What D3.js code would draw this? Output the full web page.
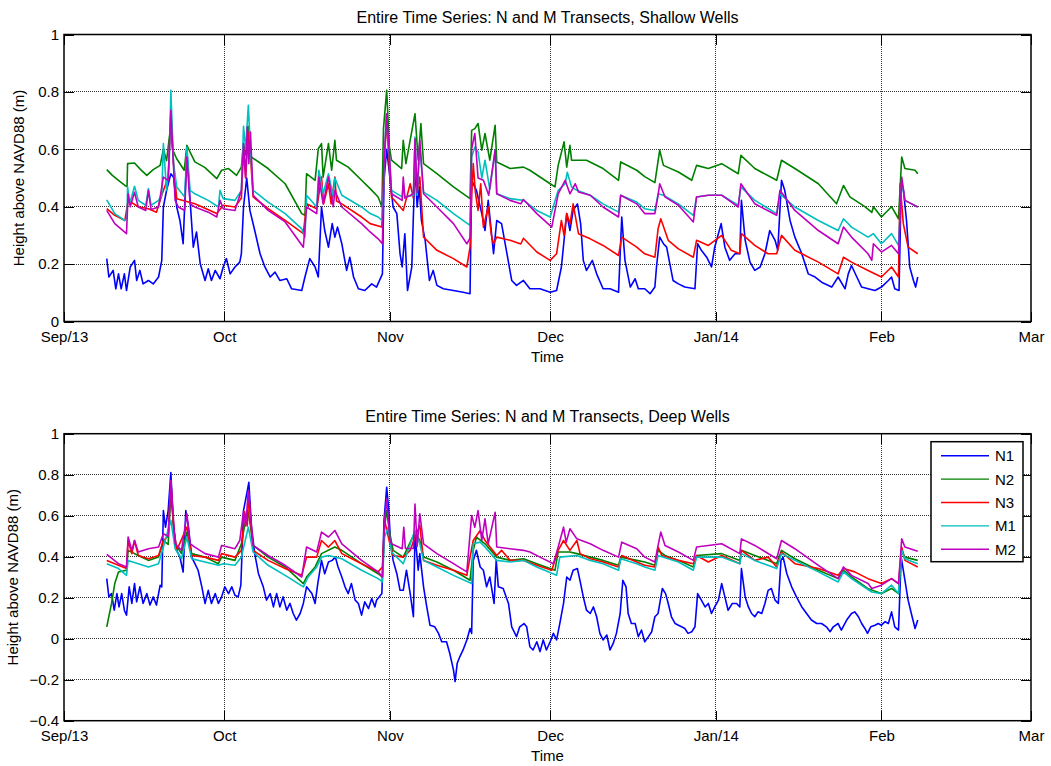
<!DOCTYPE html>
<html>
<head>
<meta charset="utf-8">
<script src="https://cdn.jsdelivr.net/npm/d3@7"></script>
<style>
  body { margin: 0; background: #fff; }
  svg { display: block; font-family: "Liberation Sans", Arial, sans-serif; }
</style>
</head>
<body>
<div id="chart"></div>
<script>

// data: day offset from Sep 1 2013 (UTC), height above NAVD88 (m)
const seriesNames = ["N1", "N2", "N3", "M1", "M2"];
const monthTicks = ["2013-09-01", "2013-10-01", "2013-11-01", "2013-12-01", "2014-01-01", "2014-02-01", "2014-03-01"];
const monthLabels = ["Sep/13", "Oct", "Nov", "Dec", "Jan/14", "Feb", "Mar"];
const yTicksShallow = [0, 0.2, 0.4, 0.6, 0.8, 1];
const yTicksDeep = [-0.4, -0.2, 0, 0.2, 0.4, 0.6, 0.8, 1];

const shallowN1 = [[8.0,.219],[8.4,.155],[9.2,.178],[9.7,.114],[10.2,.166],[10.7,.114],[11.3,.166],[11.7,.108],[12.4,.19],[13.2,.213],[13.6,.143],[14.2,.178],[14.8,.131],[15.8,.143],[16.7,.131],[17.7,.155],[18.3,.213],[18.6,.399],[19.2,.457],[20.0,.515],[20.5,.503],[21.1,.399],[21.7,.352],[22.3,.271],[23.0,.597],[23.6,.422],[24.2,.259],[24.8,.312],[25.5,.201],[26.4,.143],[27.0,.184],[27.6,.143],[28.3,.178],[29.2,.149],[29.8,.19],[30.4,.219],[31.1,.166],[32.0,.19],[32.9,.207],[33.2,.236],[33.6,.399],[34.2,.50],[34.8,.387],[35.7,.317],[36.7,.236],[37.6,.19],[38.6,.155],[39.5,.172],[40.4,.143],[41.7,.149],[42.6,.114],[44.5,.108],[45.1,.155],[46.0,.219],[47.0,.19],[47.6,.155],[48.2,.399],[48.8,.317],[49.5,.259],[50.2,.341],[50.7,.294],[51.2,.329],[52.0,.271],[52.9,.178],[53.5,.224],[54.2,.155],[55.1,.114],[56.3,.108],[57.6,.131],[58.5,.12],[59.6,.166],[59.9,.492],[60.4,.60],[61.0,.503],[61.6,.399],[62.3,.376],[62.9,.236],[63.3,.19],[63.8,.306],[64.3,.108],[65.1,.19],[65.7,.55],[66.1,.399],[66.5,.469],[66.9,.352],[67.6,.283],[68.4,.143],[69.1,.178],[69.8,.126],[71.0,.114],[72.9,.108],[74.7,.102],[76.0,.097],[76.3,.492],[77.2,.457],[78.2,.376],[78.8,.317],[79.4,.422],[80.4,.236],[81.0,.352],[81.9,.341],[82.8,.248],[83.8,.143],[84.7,.126],[86.0,.143],[87.2,.114],[89.1,.114],[91.0,.102],[92.2,.108],[93.1,.19],[94.1,.376],[94.7,.317],[95.3,.387],[96.1,.41],[96.7,.341],[97.2,.213],[97.8,.178],[98.9,.213],[99.7,.166],[100.9,.114],[102.2,.114],[103.8,.102],[104.4,.364],[105.0,.213],[106.0,.12],[106.9,.149],[107.5,.114],[108.7,.114],[109.7,.097],[110.6,.12],[110.9,.19],[111.5,.294],[112.2,.271],[112.8,.259],[113.4,.201],[114.0,.143],[115.0,.131],[116.2,.12],[118.1,.114],[118.6,.271],[119.3,.248],[120.3,.224],[121.2,.19],[121.8,.259],[123.0,.341],[123.7,.259],[124.6,.213],[125.6,.236],[126.5,.236],[126.8,.422],[127.5,.283],[128.4,.207],[129.3,.178],[130.3,.19],[131.2,.236],[132.1,.317],[133.1,.283],[133.6,.248],[134.3,.492],[134.9,.457],[135.9,.352],[136.8,.294],[138.1,.236],[139.3,.166],[140.6,.155],[141.8,.137],[143.7,.12],[144.9,.155],[146.2,.114],[146.8,.166],[147.4,.195],[148.4,.155],[149.3,.12],[150.5,.114],[151.8,.108],[153.0,.12],[154.3,.143],[154.9,.155],[155.5,.114],[156.3,.108],[156.7,.469],[157.1,.46],[157.7,.352],[158.3,.19],[159.0,.143],[159.4,.12],[159.8,.155]];

const shallowN2 = [[8.0,.529],[9.0,.51],[10.2,.492],[11.4,.474],[11.8,.47],[11.9,.55],[13.2,.552],[14.3,.53],[15.5,.509],[16.7,.529],[18.0,.544],[18.6,.60],[19.2,.56],[19.7,.64],[20.0,.68],[20.3,.60],[21.1,.567],[22.5,.527],[23.0,.614],[23.6,.59],[24.5,.556],[26.4,.536],[28.6,.498],[29.5,.527],[30.8,.533],[32.3,.509],[33.2,.538],[33.6,.62],[34.0,.58],[34.5,.68],[34.8,.60],[35.1,.573],[38.2,.533],[41.4,.48],[44.5,.376],[45.1,.37],[45.4,.515],[47.0,.492],[47.6,.602],[48.2,.62],[48.5,.503],[49.5,.62],[50.1,.527],[50.7,.631],[51.0,.562],[53.2,.538],[55.7,.492],[57.3,.463],[58.8,.434],[59.5,.40],[59.8,.672],[60.4,.806],[60.9,.608],[61.3,.562],[63.2,.533],[63.5,.631],[64.0,.55],[65.7,.724],[66.3,.562],[66.8,.69],[67.3,.55],[69.8,.515],[72.9,.469],[76.0,.428],[76.3,.666],[76.9,.672],[77.5,.69],[78.2,.597],[78.8,.655],[79.7,.562],[80.7,.684],[81.0,.556],[83.5,.533],[86.0,.538],[87.2,.527],[91.0,.48],[91.9,.469],[92.5,.544],[93.6,.626],[94.1,.538],[94.7,.614],[95.0,.562],[97.8,.562],[100.9,.533],[103.8,.492],[104.2,.556],[107.2,.527],[108.7,.505],[110.6,.484],[111.5,.597],[112.2,.544],[115.0,.521],[117.5,.492],[118.4,.544],[120.6,.533],[123.1,.55],[126.2,.515],[126.7,.579],[129.3,.533],[133.4,.492],[134.3,.562],[136.8,.533],[141.2,.48],[144.6,.41],[145.9,.474],[147.1,.434],[149.9,.40],[151.2,.38],[151.5,.40],[153.0,.364],[154.9,.40],[156.2,.358],[156.8,.573],[157.4,.533],[159.3,.527],[159.8,.515]];

const shallowN3 = [[8.0,.393],[9.5,.37],[11.4,.352],[12.0,.422],[13.9,.40],[15.8,.393],[17.3,.381],[18.6,.457],[19.5,.50],[20.0,.73],[20.5,.55],[21.1,.428],[24.5,.41],[28.6,.376],[29.8,.405],[32.0,.399],[33.2,.43],[33.6,.60],[34.0,.50],[34.5,.66],[35.0,.55],[35.4,.434],[38.2,.393],[41.4,.352],[44.8,.306],[45.4,.41],[47.3,.393],[48.2,.503],[48.6,.41],[49.5,.48],[50.0,.41],[50.7,.503],[51.0,.42],[52.0,.41],[55.7,.364],[57.3,.341],[59.5,.329],[59.9,.55],[60.4,.70],[61.0,.503],[61.3,.434],[63.5,.387],[64.0,.422],[64.8,.48],[65.4,.43],[65.7,.56],[66.1,.45],[66.6,.503],[67.3,.294],[67.9,.283],[69.8,.248],[72.9,.219],[75.4,.19],[76.0,.259],[76.3,.44],[76.6,.55],[77.0,.45],[77.5,.387],[78.0,.48],[78.5,.329],[79.4,.399],[80.0,.30],[80.4,.271],[81.0,.294],[83.5,.283],[85.5,.27],[86.0,.29],[88.5,.242],[91.0,.213],[92.2,.236],[93.1,.352],[93.6,.30],[94.1,.376],[94.7,.34],[95.3,.41],[96.3,.306],[98.5,.288],[100.9,.265],[103.8,.23],[104.4,.294],[107.2,.259],[108.7,.236],[110.6,.224],[111.2,.323],[111.7,.358],[113.1,.283],[115.0,.253],[117.8,.224],[118.4,.283],[120.6,.265],[123.1,.30],[124.9,.248],[126.5,.236],[126.8,.306],[129.3,.265],[131.8,.236],[133.4,.236],[134.3,.30],[136.8,.248],[141.2,.207],[144.9,.166],[145.9,.224],[147.4,.207],[150.5,.178],[153.0,.155],[154.9,.19],[156.2,.155],[156.5,.48],[157.1,.341],[158.0,.259],[159.8,.236]];

const shallowM1 = [[8.0,.424],[9.5,.376],[11.4,.352],[11.8,.36],[11.9,.469],[12.3,.41],[13.2,.471],[13.9,.422],[15.3,.405],[15.8,.463],[16.3,.405],[17.7,.422],[18.3,.44],[18.6,.62],[19.2,.457],[19.7,.55],[20.0,.806],[20.5,.55],[21.1,.469],[22.6,.434],[23.0,.608],[23.6,.457],[24.5,.445],[27.0,.422],[28.9,.399],[29.2,.457],[29.8,.428],[32.0,.422],[33.2,.457],[33.6,.68],[34.0,.60],[34.5,.753],[34.9,.60],[35.4,.457],[38.2,.416],[41.4,.376],[44.5,.323],[45.1,.294],[45.4,.44],[47.3,.399],[47.7,.527],[48.5,.445],[49.5,.515],[50.4,.434],[50.7,.50],[52.0,.44],[55.7,.399],[57.3,.376],[58.8,.364],[59.5,.352],[59.9,.50],[60.3,.724],[61.0,.55],[61.3,.457],[63.3,.434],[63.5,.48],[63.8,.434],[65.4,.44],[65.7,.643],[66.1,.44],[66.6,.608],[67.3,.451],[69.8,.422],[72.9,.376],[76.0,.335],[76.3,.573],[76.9,.608],[77.5,.591],[78.2,.50],[78.8,.562],[79.7,.46],[80.7,.597],[81.0,.445],[83.5,.428],[86.0,.422],[88.5,.387],[91.0,.364],[92.5,.457],[93.8,.48],[94.2,.52],[95.0,.469],[96.0,.457],[98.5,.44],[100.9,.41],[103.8,.381],[104.2,.44],[107.2,.416],[108.7,.393],[110.6,.387],[111.2,.445],[112.2,.44],[115.0,.41],[117.8,.37],[118.4,.434],[120.6,.44],[123.1,.44],[126.2,.405],[126.7,.469],[129.3,.422],[133.4,.376],[134.0,.445],[136.8,.399],[141.2,.352],[144.9,.317],[145.9,.358],[147.4,.329],[150.5,.294],[151.5,.306],[153.0,.271],[154.9,.306],[156.2,.265],[156.8,.492],[157.4,.422],[159.8,.399]];

const shallowM2 = [[8.0,.387],[9.5,.341],[11.7,.306],[12.0,.445],[12.4,.40],[13.2,.45],[13.9,.399],[15.3,.387],[15.8,.457],[16.3,.39],[17.7,.399],[18.6,.503],[19.5,.492],[20.0,.736],[20.8,.422],[21.4,.399],[22.6,.387],[23.0,.573],[23.6,.41],[24.5,.399],[27.0,.381],[28.6,.364],[29.2,.422],[29.8,.393],[32.0,.387],[33.2,.457],[33.6,.62],[34.0,.50],[34.3,.678],[34.6,.55],[34.9,.66],[35.4,.44],[38.2,.387],[41.4,.347],[44.8,.259],[45.4,.399],[47.3,.376],[47.7,.503],[48.5,.41],[49.5,.503],[50.4,.40],[50.7,.457],[52.0,.399],[55.7,.341],[57.3,.312],[58.8,.288],[59.6,.271],[59.9,.55],[60.4,.724],[61.0,.55],[61.3,.445],[63.3,.422],[63.5,.503],[63.8,.43],[65.4,.445],[65.7,.637],[66.1,.45],[66.6,.631],[67.3,.445],[69.8,.399],[72.9,.341],[75.4,.271],[76.0,.29],[76.3,.602],[76.9,.655],[77.5,.50],[78.5,.492],[79.5,.44],[80.7,.597],[81.0,.445],[83.5,.422],[85.5,.41],[86.0,.425],[88.5,.376],[91.3,.329],[92.5,.445],[93.8,.492],[94.7,.445],[95.7,.48],[96.3,.451],[98.5,.44],[100.9,.399],[103.8,.364],[104.2,.44],[107.2,.41],[108.7,.376],[110.6,.376],[111.2,.44],[111.5,.48],[112.5,.434],[115.0,.405],[117.8,.347],[118.4,.434],[120.6,.44],[123.1,.44],[126.2,.399],[126.7,.48],[129.3,.41],[133.4,.37],[134.0,.457],[136.8,.387],[141.2,.317],[144.9,.271],[145.9,.329],[147.4,.294],[150.5,.236],[151.2,.213],[151.5,.271],[153.0,.242],[154.9,.265],[156.2,.236],[156.8,.503],[157.4,.422],[159.8,.399]];

const deepN1 = [[8.0,.293],[8.4,.204],[8.9,.22],[9.4,.139],[9.9,.22],[10.3,.155],[10.8,.22],[11.3,.139],[11.7,.115],[12.2,.253],[12.7,.172],[13.2,.269],[13.6,.18],[14.2,.253],[14.8,.172],[15.5,.22],[16.1,.164],[16.7,.204],[17.3,.164],[18.0,.261],[18.3,.253],[18.6,.625],[19.0,.544],[19.5,.625],[20.0,.811],[20.5,.544],[21.1,.431],[21.7,.398],[22.3,.325],[22.8,.625],[23.3,.544],[23.9,.398],[24.5,.366],[25.1,.334],[25.8,.253],[26.4,.172],[27.0,.236],[27.6,.172],[28.3,.22],[28.9,.172],[29.5,.204],[30.1,.253],[30.8,.22],[31.4,.253],[32.0,.212],[32.6,.204],[33.1,.261],[33.6,.625],[34.2,.706],[34.6,.763],[35.1,.544],[35.7,.415],[36.4,.317],[37.3,.253],[37.9,.188],[38.6,.22],[39.2,.155],[39.8,.22],[40.4,.155],[41.0,.204],[41.7,.139],[42.3,.172],[42.9,.123],[43.5,.091],[44.2,.123],[44.8,.172],[45.4,.253],[46.4,.22],[47.0,.172],[47.5,.269],[48.2,.382],[48.8,.317],[49.5,.374],[50.2,.382],[50.8,.398],[51.3,.35],[52.0,.301],[52.6,.253],[53.2,.22],[53.8,.269],[54.5,.188],[55.1,.172],[55.7,.115],[56.3,.18],[57.0,.147],[57.6,.196],[58.2,.155],[58.5,.188],[59.5,.22],[59.9,.577],[60.4,.738],[60.8,.625],[61.1,.479],[61.6,.382],[62.3,.317],[62.9,.236],[63.5,.236],[64.1,.334],[64.8,.22],[65.4,.107],[65.7,.512],[66.3,.334],[66.6,.415],[67.3,.253],[67.9,.155],[68.5,.066],[69.4,.058],[70.1,.026],[70.7,-.015],[71.6,-.015],[72.2,-.071],[72.9,-.152],[73.2,-.209],[73.6,-.12],[74.1,-.087],[74.7,-.055],[75.4,-.006],[76.0,.050],[76.3,.026],[76.6,.382],[77.2,.431],[77.9,.35],[78.5,.334],[79.1,.253],[79.7,.301],[80.5,.172],[80.9,.382],[81.3,.253],[82.2,.245],[83.2,.172],[83.8,.058],[84.7,.010],[85.3,.058],[86.1,.074],[86.6,.058],[87.2,-.039],[87.8,-.055],[88.5,-.015],[89.1,-.063],[89.7,-.006],[90.3,-.055],[91.0,-.015],[91.6,.026],[92.2,-.006],[92.8,.074],[93.5,.172],[94.1,.301],[94.7,.285],[95.3,.334],[96.1,.342],[96.7,.269],[97.2,.204],[97.8,.139],[98.5,.123],[99.1,.155],[99.7,.107],[100.3,.026],[100.9,-.006],[101.6,.018],[102.2,-.055],[102.8,-.023],[103.4,.026],[104.1,.123],[104.6,.285],[105.2,.253],[105.6,.123],[106.2,.074],[106.9,.074],[107.5,.010],[108.1,.042],[108.7,-.015],[109.4,.010],[110.0,.034],[110.6,.107],[111.2,.123],[112.0,.245],[112.6,.22],[113.1,.172],[113.7,.107],[114.4,.074],[115.0,.066],[115.6,.058],[116.2,.050],[116.8,.026],[117.5,.034],[118.1,.058],[118.6,.22],[119.3,.188],[120.0,.155],[120.6,.172],[121.2,.123],[121.8,.155],[122.5,.188],[123.1,.269],[123.7,.204],[124.3,.139],[125.1,.172],[125.9,.172],[126.5,.155],[126.8,.342],[127.5,.204],[128.1,.155],[128.7,.123],[129.3,.107],[129.9,.131],[130.6,.123],[131.2,.172],[131.8,.236],[132.4,.245],[133.1,.188],[133.7,.172],[134.2,.382],[134.6,.398],[135.3,.317],[136.2,.253],[137.1,.204],[138.1,.155],[139.0,.123],[139.9,.091],[140.9,.074],[141.8,.074],[142.7,.058],[143.4,.034],[144.0,.058],[144.9,.074],[145.5,.042],[146.5,.091],[147.4,.123],[148.0,.131],[148.7,.107],[149.3,.074],[149.9,.050],[150.4,.026],[151.0,.058],[151.8,.066],[152.4,.074],[153.0,.066],[153.7,.083],[154.3,.074],[154.9,.131],[155.5,.058],[156.2,.042],[156.7,.398],[157.3,.301],[158.0,.188],[158.6,.123],[159.3,.050],[159.8,.091]];

const deepN2 = [[8.0,.058],[8.9,.172],[9.5,.269],[10.2,.325],[11.7,.334],[12.0,.431],[13.9,.406],[15.8,.382],[17.7,.398],[18.6,.479],[19.5,.46],[20.0,.706],[20.8,.463],[22.0,.415],[23.0,.52],[23.9,.415],[26.4,.398],[28.9,.366],[29.5,.398],[32.0,.382],[33.2,.463],[33.8,.55],[34.4,.625],[34.9,.55],[35.4,.455],[38.2,.398],[41.4,.35],[44.8,.269],[45.4,.301],[47.0,.35],[48.2,.415],[50.7,.447],[52.0,.431],[55.7,.366],[58.8,.317],[59.6,.301],[60.0,.544],[60.4,.625],[61.0,.512],[61.6,.431],[63.5,.398],[65.7,.52],[66.6,.479],[67.3,.398],[69.8,.374],[72.9,.334],[76.0,.285],[76.6,.431],[77.2,.496],[78.8,.463],[81.0,.398],[83.5,.382],[86.0,.39],[88.5,.366],[91.9,.334],[92.5,.423],[94.7,.423],[96.0,.415],[98.5,.398],[100.9,.382],[103.8,.358],[104.2,.398],[107.2,.382],[108.7,.374],[110.6,.358],[111.2,.431],[112.5,.406],[115.0,.382],[117.8,.35],[118.4,.406],[123.1,.415],[126.5,.382],[126.8,.431],[129.3,.406],[133.4,.366],[134.3,.431],[136.8,.39],[141.2,.334],[144.9,.293],[145.9,.334],[147.4,.301],[150.5,.244],[153.0,.22],[154.9,.245],[156.2,.22],[156.8,.431],[157.4,.398],[159.8,.382]];

const deepN3 = [[8.0,.382],[10.2,.358],[11.7,.342],[12.0,.479],[12.7,.415],[13.2,.479],[13.9,.406],[15.8,.39],[17.7,.406],[18.6,.479],[19.5,.50],[20.0,.771],[20.5,.55],[21.1,.431],[23.0,.544],[23.9,.406],[26.4,.398],[28.9,.382],[29.5,.415],[32.0,.398],[33.2,.431],[33.8,.62],[34.3,.55],[34.6,.706],[35.0,.55],[35.4,.431],[38.2,.382],[41.4,.342],[44.5,.309],[45.4,.398],[47.3,.398],[48.2,.479],[49.5,.447],[50.7,.479],[52.0,.415],[55.7,.366],[58.8,.326],[59.6,.35],[60.0,.577],[61.0,.463],[61.6,.406],[63.5,.398],[64.8,.431],[65.7,.496],[66.6,.552],[67.3,.382],[69.8,.358],[72.9,.334],[75.4,.309],[76.0,.398],[76.6,.479],[77.9,.528],[78.8,.479],[81.0,.406],[81.9,.431],[83.5,.382],[86.0,.382],[88.5,.358],[91.3,.334],[92.5,.431],[93.5,.479],[94.7,.431],[96.0,.479],[96.6,.415],[98.5,.39],[100.9,.374],[103.8,.35],[104.4,.406],[107.2,.374],[108.7,.358],[110.6,.35],[111.2,.447],[111.9,.406],[115.0,.382],[117.8,.366],[118.4,.406],[120.6,.374],[123.1,.406],[126.5,.366],[126.8,.431],[129.3,.382],[131.8,.398],[133.4,.35],[134.3,.423],[136.8,.366],[141.2,.342],[144.9,.309],[145.9,.342],[148.0,.326],[150.5,.293],[153.0,.269],[154.9,.293],[156.2,.269],[156.8,.447],[157.4,.382],[159.8,.35]];

const deepM1 = [[8.0,.366],[10.2,.342],[11.7,.309],[12.0,.382],[13.9,.366],[15.8,.35],[17.7,.366],[18.6,.447],[20.0,.577],[20.8,.439],[22.0,.39],[23.0,.496],[23.9,.39],[26.4,.374],[28.9,.358],[29.8,.366],[32.0,.358],[33.2,.398],[34.5,.544],[35.4,.423],[38.2,.358],[41.4,.309],[44.8,.253],[45.7,.301],[47.3,.35],[48.2,.398],[49.5,.406],[52.0,.39],[55.7,.334],[58.8,.293],[59.6,.277],[60.0,.496],[60.7,.544],[61.3,.423],[63.5,.366],[65.7,.528],[66.6,.463],[67.3,.382],[69.8,.35],[72.9,.309],[76.3,.269],[76.6,.463],[77.9,.471],[78.8,.447],[81.0,.382],[83.5,.374],[86.0,.382],[88.5,.35],[92.2,.309],[92.8,.398],[96.0,.406],[98.5,.382],[100.9,.366],[103.8,.334],[104.2,.39],[107.2,.366],[108.7,.35],[110.6,.334],[111.2,.406],[115.0,.374],[117.8,.334],[118.4,.398],[123.1,.398],[126.5,.366],[126.8,.415],[129.3,.382],[133.4,.342],[134.3,.415],[136.8,.382],[141.2,.326],[144.9,.277],[145.9,.326],[147.4,.293],[151.2,.228],[153.0,.22],[154.9,.261],[156.2,.22],[156.8,.431],[157.4,.39],[159.8,.366]];

const deepM2 = [[8.0,.411],[10.2,.366],[11.7,.35],[12.0,.496],[12.7,.431],[13.2,.479],[13.9,.423],[15.8,.439],[17.7,.447],[18.6,.512],[19.5,.50],[20.0,.771],[20.8,.463],[22.0,.431],[23.0,.609],[23.6,.463],[24.5,.447],[26.4,.415],[28.9,.398],[29.5,.455],[32.0,.439],[32.9,.479],[33.6,.62],[34.0,.55],[34.5,.722],[34.9,.60],[35.4,.455],[38.2,.406],[41.4,.358],[44.5,.301],[45.4,.447],[47.3,.423],[48.2,.52],[49.5,.496],[50.7,.528],[52.0,.463],[55.7,.382],[58.8,.326],[59.6,.301],[60.0,.577],[60.4,.682],[61.0,.479],[61.3,.463],[63.3,.439],[63.6,.544],[63.9,.44],[65.4,.44],[65.7,.657],[66.1,.45],[66.6,.609],[67.3,.463],[69.8,.415],[72.9,.366],[75.4,.326],[76.3,.601],[76.9,.544],[77.5,.625],[78.2,.479],[78.8,.585],[79.4,.463],[80.7,.617],[81.0,.447],[83.5,.439],[86.0,.431],[87.2,.423],[89.1,.398],[91.6,.366],[92.5,.447],[93.5,.544],[94.0,.47],[94.7,.536],[96.0,.487],[98.5,.463],[100.9,.431],[103.8,.398],[104.4,.471],[107.2,.439],[108.7,.398],[110.6,.374],[111.2,.455],[111.7,.52],[112.5,.455],[115.0,.423],[117.8,.382],[118.4,.447],[120.6,.455],[123.1,.463],[126.5,.415],[126.8,.487],[129.3,.455],[133.4,.39],[134.3,.479],[136.8,.439],[141.2,.358],[144.9,.293],[145.9,.35],[147.4,.309],[150.5,.269],[151.2,.245],[153.0,.261],[154.9,.293],[156.2,.269],[156.8,.487],[157.4,.447],[159.8,.427]];

// MATLAB default line colours
const lineColors = ["#0000ff", "#008000", "#ff0000", "#00bfbf", "#bf00bf"];

const startDate = new Date(Date.UTC(2013, 8, 1));


class WellPanel {

	constructor(svg, series, config) {
		this.svg = svg;
		this.series = series;
		this.config = config;

		this.initVis();
	}

	initVis() {
		let vis = this;
		let cfg = vis.config;

		vis.width = 967;
		vis.height = 287;

		vis.g = vis.svg.append("g")
			.attr("transform", "translate(" + cfg.left + "," + cfg.top + ")");

		vis.tickDates = monthTicks.map(d => d3.utcParse("%Y-%m-%d")(d));

		vis.xScale = d3.scaleUtc()
			.domain([vis.tickDates[0], vis.tickDates[vis.tickDates.length - 1]])
			.range([0, vis.width]);

		vis.yScale = d3.scaleLinear()
			.domain([cfg.yTicks[0], cfg.yTicks[cfg.yTicks.length - 1]])
			.range([vis.height, 0]);

		// dotted grid
		let grid = vis.g.append("g").attr("class", "grid")
			.attr("stroke", "#000")
			.attr("stroke-width", 1)
			.attr("stroke-dasharray", "1,1")
			.attr("opacity", 0.8)
			.attr("shape-rendering", "crispEdges");

		grid.selectAll(".gx")
			.data(vis.tickDates.slice(1, -1))
			.enter().append("line")
			.attr("x1", d => vis.xScale(d)).attr("x2", d => vis.xScale(d))
			.attr("y1", 0).attr("y2", vis.height);

		grid.selectAll(".gy")
			.data(cfg.yTicks.slice(1, -1))
			.enter().append("line")
			.attr("x1", 0).attr("x2", vis.width)
			.attr("y1", d => vis.yScale(d)).attr("y2", d => vis.yScale(d));

		// axes, ticks pointing inwards
		vis.xAxis = d3.axisBottom(vis.xScale)
			.tickValues(vis.tickDates)
			.tickFormat((d, i) => monthLabels[i])
			.tickSizeInner(-10).tickSizeOuter(0).tickPadding(10);

		vis.yAxis = d3.axisLeft(vis.yScale)
			.tickValues(cfg.yTicks)
			.tickFormat(d3.format("~g"))
			.tickSizeInner(-10).tickSizeOuter(0).tickPadding(5);

		vis.g.append("g").attr("class", "x-axis axis")
			.attr("transform", "translate(0," + vis.height + ")")
			.call(vis.xAxis);
		vis.g.append("g").attr("class", "x-axis-top axis")
			.call(d3.axisTop(vis.xScale).tickValues(vis.tickDates).tickFormat("")
				.tickSizeInner(-10).tickSizeOuter(0));
		vis.g.append("g").attr("class", "y-axis axis")
			.call(vis.yAxis);
		vis.g.append("g").attr("class", "y-axis-right axis")
			.attr("transform", "translate(" + vis.width + ",0)")
			.call(d3.axisRight(vis.yScale).tickValues(cfg.yTicks).tickFormat("")
				.tickSizeInner(-10).tickSizeOuter(0));

		vis.g.selectAll(".axis .domain").remove();
		vis.g.selectAll(".axis")
			.attr("font-family", null)
			.attr("font-size", 15);
		vis.g.selectAll(".axis text").attr("fill", "#000");
		vis.g.selectAll(".axis line").attr("stroke", "#000").attr("shape-rendering", "crispEdges");

		// titles
		vis.g.append("text")
			.attr("class", "title")
			.attr("x", vis.width / 2)
			.attr("y", -12)
			.attr("text-anchor", "middle")
			.attr("font-size", 16)
			.text(cfg.title);

		vis.g.append("text")
			.attr("x", vis.width / 2)
			.attr("y", vis.height + 40)
			.attr("text-anchor", "middle")
			.attr("font-size", 15)
			.text("Time");

		vis.g.append("text")
			.attr("transform", "translate(" + cfg.yLabelX + "," + (vis.height / 2) + ") rotate(-90)")
			.attr("text-anchor", "middle")
			.attr("font-size", 15)
			.text("Height above NAVD88 (m)");

		vis.wrangleData();
	}

	wrangleData() {
		let vis = this;

		vis.displayData = vis.series.map((values, i) => ({
			name: seriesNames[i],
			color: lineColors[i],
			values: values.map(d => ({date: d3.utcMillisecond.offset(startDate, Math.round(d[0] * 864e5)), value: d[1]}))
		}));

		vis.updateVis();
	}

	updateVis() {
		let vis = this;

		let line = d3.line()
			.x(d => vis.xScale(d.date))
			.y(d => vis.yScale(d.value));

		vis.g.append("g").attr("class", "lines")
			.selectAll("path")
			.data(vis.displayData)
			.enter().append("path")
			.attr("d", d => line(d.values))
			.attr("fill", "none")
			.attr("stroke", d => d.color)
			.attr("stroke-width", 1.6)
			.attr("stroke-linejoin", "round");

		// box
		vis.g.append("rect")
			.attr("width", vis.width)
			.attr("height", vis.height)
			.attr("fill", "none")
			.attr("stroke", "#000")
			.attr("stroke-width", 1.5);

		if (vis.config.legend) {
			let lg = vis.g.append("g")
				.attr("class", "legend")
				.attr("transform", "translate(" + (vis.width - 100) + ",8)");

			lg.append("rect")
				.attr("width", 92)
				.attr("height", 120)
				.attr("fill", "#fff")
				.attr("stroke", "#000")
				.attr("stroke-width", 1.5);

			let item = lg.selectAll(".item")
				.data(vis.displayData)
				.enter().append("g")
				.attr("class", "item")
				.attr("transform", (d, i) => "translate(0," + (14 + i * 23.4) + ")");

			item.append("line")
				.attr("x1", 10).attr("x2", 58)
				.attr("stroke", d => d.color)
				.attr("stroke-width", 1.4);

			item.append("text")
				.attr("x", 64)
				.attr("dy", "0.36em")
				.attr("font-size", 15)
				.text(d => d.name);
		}
	}
}


let svg = d3.select("#chart").append("svg")
	.attr("width", 1051)
	.attr("height", 766);

new WellPanel(svg, [shallowN1, shallowN2, shallowN3, shallowM1, shallowM2], {
	left: 64, top: 34.5, yTicks: yTicksShallow, yLabelX: -40.5, legend: false,
	title: "Entire Time Series: N and M Transects, Shallow Wells"
});

new WellPanel(svg, [deepN1, deepN2, deepN3, deepM1, deepM2], {
	left: 64, top: 433.7, yTicks: yTicksDeep, yLabelX: -46.5, legend: true,
	title: "Entire Time Series: N and M Transects, Deep Wells"
});

</script>
</body>
</html>
